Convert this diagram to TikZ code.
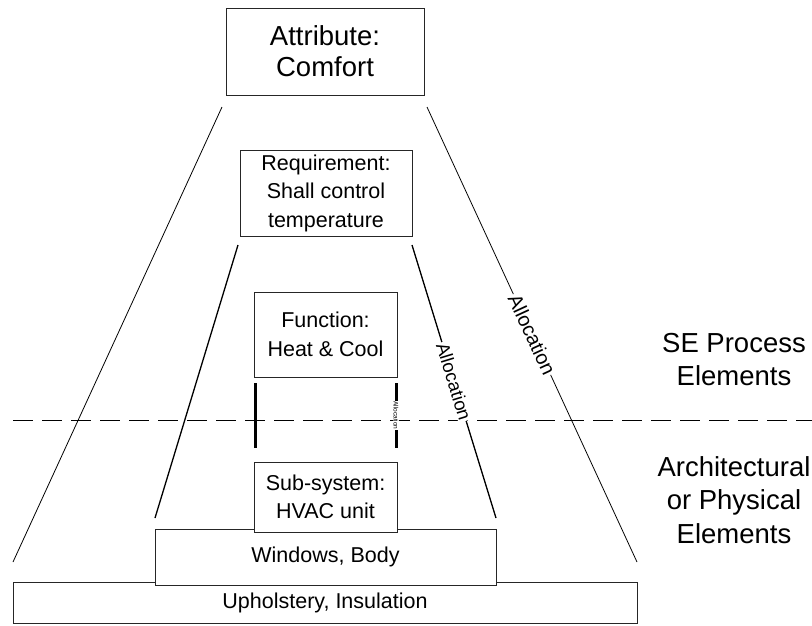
\documentclass[tikz,border=0pt]{standalone}
\usepackage{fontspec}
\setmainfont{Liberation Sans}
\begin{document}
\begin{tikzpicture}[x=1pt,y=-1pt,
  box/.style={draw=black!85, line width=0.9pt, fill=white, align=center, inner sep=0pt, font=\fontsize{21.5}{28.5}\selectfont},
  thin/.style={draw=black, line width=0.8pt},
  mid/.style={draw=black, line width=1.3pt},
  thick/.style={draw=black, line width=3pt},
  alloc/.style={sloped, fill=white, inner sep=1pt},
  side/.style={align=center, font=\fontsize{27.5}{33.5}\selectfont}]
\useasboundingbox (0,0) rectangle (812,625);
\fill[white] (0,0) rectangle (812,625);

% dashed separator
\coordinate (dl) at (13,420);
\coordinate (dr) at (812,420);
\draw[line width=0.9pt, dash pattern=on 20pt off 9pt] (dl) -- (dr);

% boxes
\node[box, minimum width=198pt, minimum height=87pt, font=\fontsize{27.5}{31}\selectfont] (attr) at (325,51.5) {Attribute:\\Comfort};
\node[box, minimum width=172pt, minimum height=86pt] (req) at (326,193) {Requirement:\\Shall control\\temperature};
\node[box, minimum width=143pt, minimum height=85pt] (fun) at (325.5,334.5) {Function:\\Heat \& Cool};
\node[box, minimum width=624pt, minimum height=41pt] (uph) at (325,602.5) {Upholstery, Insulation};
\node[box, minimum width=341pt, minimum height=56pt] (win) at (325.5,557) {Windows, Body};
\node[box, minimum width=143pt, minimum height=70pt] (sub) at (325.5,497) {Sub-system:\\HVAC unit};

% outer trapezoid lines
\coordinate (ol1) at (222,107);
\coordinate (ol2) at (13,562);
\coordinate (or1) at (427,107);
\coordinate (or2) at (637,562);
\draw[thin] (ol1) -- (ol2);
\draw[thin] (or1) -- node[alloc, font=\fontsize{20}{22}\selectfont] {Allocation} (or2);

% inner trapezoid lines
\coordinate (il1) at (238,245);
\coordinate (il2) at (155,518);
\coordinate (ir1) at (412,245);
\coordinate (ir2) at (496,518);
\draw[mid] (il1) -- (il2);
\draw[mid] (ir1) -- node[alloc, font=\fontsize{18.5}{20}\selectfont] {Allocation} (ir2);

% thick verticals
\coordinate (tl1) at (255,383);
\coordinate (tl2) at (255,448);
\coordinate (tr1) at (396,383);
\coordinate (tr2) at (396,448);
\draw[thick] (tl1) -- (tl2);
\draw[thick] (tr1) -- node[fill=white, inner sep=0.5pt, rotate=-90, font=\fontsize{6.5}{7}\selectfont] {Allocation} (tr2);

% side labels
\node[side] (se) at (734,359.5) {SE Process\\Elements};
\node[side] (arch) at (734,500) {Architectural\\or Physical\\Elements};
\end{tikzpicture}
\end{document}
